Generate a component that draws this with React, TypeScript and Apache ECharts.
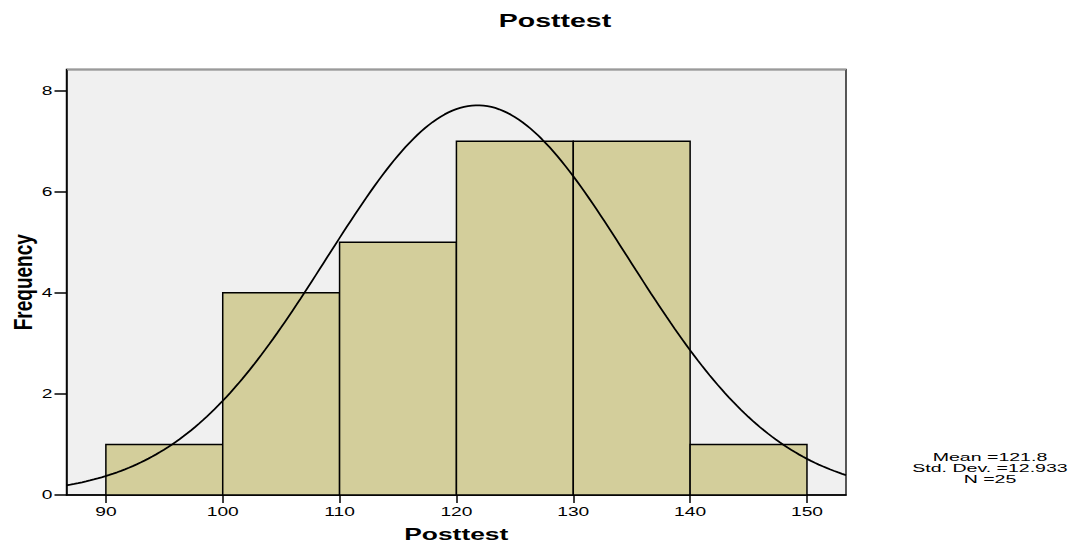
import React, { useEffect, useRef } from "react";
import * as echarts from "echarts";

const BIN_STARTS = [90, 100, 110, 120, 130, 140];
const BIN_WIDTH = 10;
const FREQUENCIES = [1, 4, 5, 7, 7, 1];
const X_TICKS = [90, 100, 110, 120, 130, 140, 150];
const Y_TICKS = [0, 2, 4, 6, 8];
const MEAN = 121.8;
const SD = 12.933;
const N = 25;
const X_MIN = 86.63;
const X_MAX = 153.34;
const Y_MAX = 8.42;
const TITLE = "Posttest";
const X_NAME = "Posttest";
const Y_NAME = "Frequency";
const STATS = ["Mean =121.8", "Std. Dev. =12.933", "N =25"];

export default function App() {
  const ref = useRef<HTMLDivElement>(null);
  useEffect(() => {
    if (!ref.current) return;
    const chart = echarts.init(ref.current, null, { renderer: "svg" });
    const bars = BIN_STARTS.map((s, i) => [s, s + BIN_WIDTH, FREQUENCIES[i]]);
    const curve: number[][] = [];
    const steps = 200;
    for (let k = 0; k <= steps; k++) {
      const x = X_MIN + ((X_MAX - X_MIN) * k) / steps;
      const z = (x - MEAN) / SD;
      const y = ((N * BIN_WIDTH) / (SD * Math.sqrt(2 * Math.PI))) * Math.exp(-0.5 * z * z);
      curve.push([x, y]);
    }
    const font = "'Liberation Sans', Arial, sans-serif";
    chart.setOption({
      animation: false,
      grid: {
        left: 66.5,
        top: 69.5,
        width: 779.5,
        height: 425.5,
        show: true,
        backgroundColor: "#f0f0f0",
        borderColor: "#222",
        borderWidth: 1.5,
        outerBoundsMode: "none",
        containLabel: false,
      },
      xAxis: {
        type: "value",
        min: X_MIN,
        max: X_MAX,
        axisLine: { show: true, onZero: false, lineStyle: { color: "#000", width: 1.5 } },
        axisTick: { show: true, customValues: X_TICKS, length: 8, lineStyle: { color: "#000", width: 1.5 } },
        axisLabel: { show: false, customValues: X_TICKS },
        splitLine: { show: false },
      },
      yAxis: {
        type: "value",
        min: 0,
        max: Y_MAX,
        axisLine: { show: true, lineStyle: { color: "#000", width: 1.5 } },
        axisTick: { show: true, customValues: Y_TICKS, length: 12, lineStyle: { color: "#000", width: 1.5 } },
        axisLabel: { show: false, customValues: Y_TICKS },
        splitLine: { show: false },
      },
      series: [
        {
          type: "custom",
          data: bars,
          encode: { x: [0, 1], y: 2 },
          renderItem: (params: any, api: any) => {
            const p0 = api.coord([api.value(0), api.value(2)]);
            const p1 = api.coord([api.value(1), 0]);
            return {
              type: "rect",
              shape: { x: p0[0], y: p0[1], width: p1[0] - p0[0], height: p1[1] - p0[1] },
              style: { fill: "#d3ce9b", stroke: "#000", lineWidth: 1.5 },
            };
          },
          z: 2,
        },
        {
          type: "line",
          data: curve,
          showSymbol: false,
          symbol: "none",
          lineStyle: { color: "#000", width: 1.8 },
          z: 3,
        },
      ],
    });

    const y0 = chart.convertToPixel({ yAxisIndex: 0 }, 0) as number;
    const xLeft = chart.convertToPixel({ xAxisIndex: 0 }, X_MIN) as number;
    const xRight = chart.convertToPixel({ xAxisIndex: 0 }, X_MAX) as number;
    const yTop = chart.convertToPixel({ yAxisIndex: 0 }, Y_MAX) as number;

    const graphics: any[] = [];
    graphics.push({
      type: "line",
      shape: { x1: xLeft + 0.5, y1: yTop, x2: xRight, y2: yTop },
      style: { stroke: "#9a9a9a", lineWidth: 1.5 },
      z: 100,
    });
    X_TICKS.forEach((v) => {
      const px = chart.convertToPixel({ xAxisIndex: 0 }, v) as number;
      graphics.push({
        type: "text",
        x: px,
        y: y0 + 17,
        scaleX: 1.6,
        style: {
          text: String(v),
          fontFamily: font,
          fontSize: 12,
          fill: "#000",
          align: "center",
          verticalAlign: "middle",
        },
      });
    });
    Y_TICKS.forEach((v) => {
      const py = chart.convertToPixel({ yAxisIndex: 0 }, v) as number;
      graphics.push({
        type: "text",
        x: xLeft - 14,
        y: py,
        scaleX: 1.6,
        style: {
          text: String(v),
          fontFamily: font,
          fontSize: 12,
          fill: "#000",
          align: "right",
          verticalAlign: "middle",
        },
      });
    });
    graphics.push({
      type: "text",
      x: 555,
      y: 20.5,
      scaleX: 1.5,
      style: {
        text: TITLE,
        fontFamily: font,
        fontSize: 19,
        fontWeight: "bold",
        fill: "#000",
        align: "center",
        verticalAlign: "middle",
      },
    });
    graphics.push({
      type: "text",
      x: (xLeft + xRight) / 2,
      y: y0 + 39,
      scaleX: 1.6,
      style: {
        text: X_NAME,
        fontFamily: font,
        fontSize: 16.5,
        fontWeight: "bold",
        fill: "#000",
        align: "center",
        verticalAlign: "middle",
      },
    });
    graphics.push({
      type: "text",
      x: 24,
      y: (y0 + yTop) / 2,
      rotation: Math.PI / 2,
      scaleX: 0.76,
      style: {
        text: Y_NAME,
        fontFamily: font,
        fontSize: 25,
        fontWeight: "bold",
        fill: "#000",
        align: "center",
        verticalAlign: "middle",
      },
    });
    STATS.forEach((s, i) => {
      graphics.push({
        type: "text",
        x: 990,
        y: 456.5 + i * 11.3,
        scaleX: 1.7,
        style: {
          text: s,
          fontFamily: font,
          fontSize: 11.5,
          fill: "#000",
          align: "center",
          verticalAlign: "middle",
        },
      });
    });
    chart.setOption({ graphic: graphics });
    return () => chart.dispose();
  }, []);
  return <div ref={ref} style={{ position: "absolute", left: 0, top: 0, width: 1077, height: 546 }} />;
}
